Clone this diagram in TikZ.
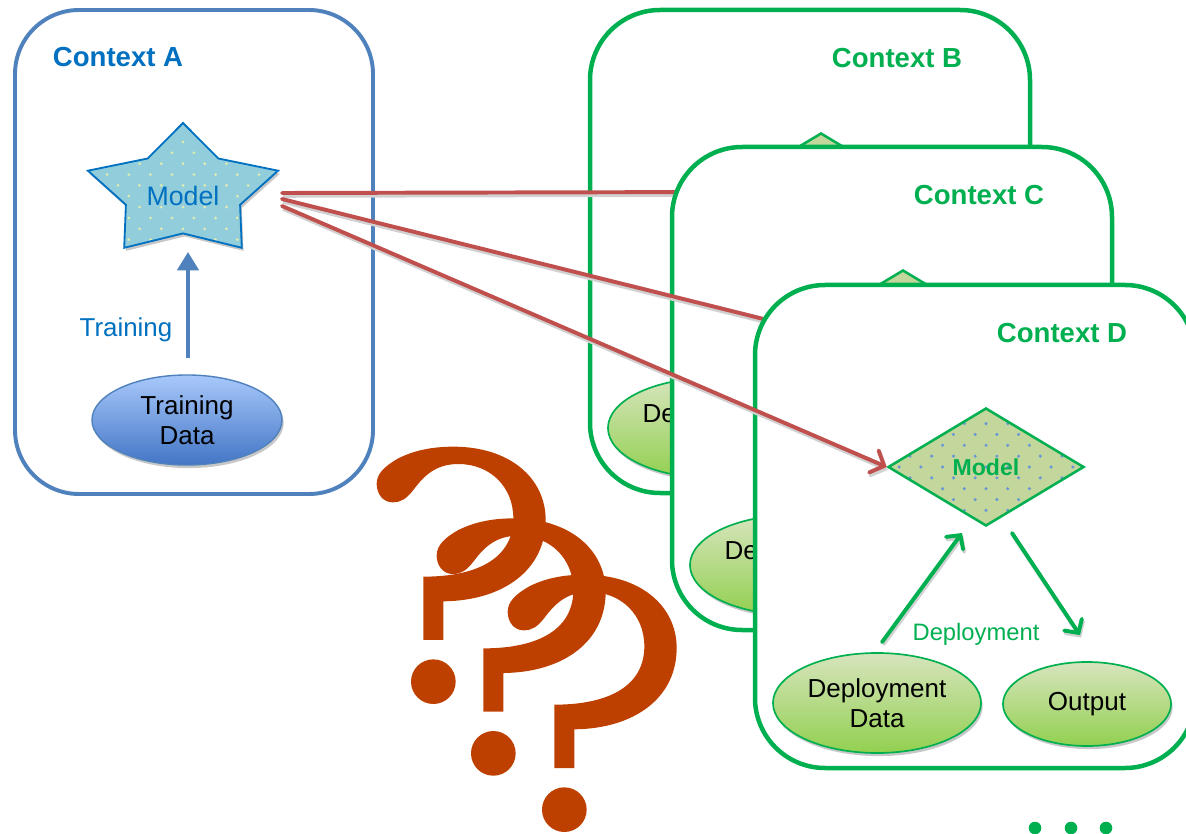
\documentclass[tikz,border=0pt]{standalone}
\usepackage{fontspec}
\setmainfont{Liberation Sans}
\usetikzlibrary{arrows.meta,shapes.geometric,shadows}

\definecolor{ablue}{RGB}{79,129,189}
\definecolor{tblue}{RGB}{0,112,192}
\definecolor{starfill}{RGB}{146,205,220}
\definecolor{stardot}{RGB}{225,236,175}
\definecolor{ggreen}{RGB}{0,176,80}
\definecolor{dfill}{RGB}{195,214,155}
\definecolor{ddot}{RGB}{105,150,215}
\definecolor{gtop}{RGB}{215,228,189}
\definecolor{gbot}{RGB}{146,208,80}
\definecolor{btop}{RGB}{168,200,250}
\definecolor{bbot}{RGB}{66,118,198}
\definecolor{rline}{RGB}{192,80,77}
\definecolor{qcol}{RGB}{190,64,0}

\tikzset{
  x=0.025cm, y=-0.025cm,
  dotgrid/.style 2 args={path picture={
    \foreach \i in {-7,...,7}\foreach \j in {-4,...,4}{
      \fill[#1] ([shift={(\i*21.7,\j*21.7)}]path picture bounding box.center) circle[radius=#2];
      \fill[#1] ([shift={(\i*21.7+10.85,\j*21.7+10.85)}]path picture bounding box.center) circle[radius=#2];}}},
  softshadow/.style={drop shadow={shadow xshift=1.2pt, shadow yshift=-2.2pt, fill=black, opacity=0.22}},
  ctxA/.style={draw=ablue, line width=2.8pt, rounded corners=1.6cm, fill=white},
  ctxbox/.style={draw=ggreen, line width=3.2pt, rounded corners=1.75cm, fill=white},
  atitle/.style={font=\fontsize{19.6}{23}\selectfont\bfseries, text=tblue},
  ctitle/.style={font=\fontsize{19.6}{23}\selectfont\bfseries, text=ggreen},
  starshape/.style={draw=tblue, line width=1.3pt, fill=starfill, softshadow, dotgrid={stardot}{1.5}},
  starlabel/.style={font=\fontsize{19}{23}\selectfont, text=tblue, inner sep=0pt},
  tdata/.style={ellipse, draw=ablue, line width=1pt, top color=btop, bottom color=bbot,
    minimum width=4.75cm, minimum height=2.25cm, inner sep=0pt, align=center,
    font=\fontsize{18.5}{21}\selectfont, softshadow},
  gdata/.style={ellipse, draw=ggreen, line width=1.2pt, top color=gtop, bottom color=gbot,
    inner sep=0pt, align=center, font=\fontsize{18.5}{21}\selectfont, softshadow},
  dmodel/.style={diamond, aspect=1.66, minimum width=4.9cm, minimum height=2.95cm, inner sep=0pt,
    draw=ggreen, line width=1.8pt, fill=dfill, dotgrid={ddot}{1.7},
    font=\fontsize{16.4}{20}\selectfont\bfseries, text=ggreen},
  tarrow/.style={draw=ablue, line width=2.8pt, -{Triangle[length=13pt,width=15pt]}},
  garrow/.style={draw=ggreen, line width=2.8pt, line cap=round,
    -{Straight Barb[length=7pt,width=15pt,line cap=round]},
    preaction={draw=black!18, line width=2.8pt, transform canvas={shift={(0.8pt,-1.8pt)}}}},
  rarrow/.style={draw=rline, line width=2.8pt, line cap=round,
    -{Straight Barb[length=8pt,width=17pt,line cap=round]},
    preaction={draw=black!18, line width=2.8pt, transform canvas={shift={(0.8pt,-2pt)}}}},
  tlabel/.style={font=\fontsize{18.4}{22}\selectfont, text=tblue},
  dlabel/.style={font=\fontsize{16.9}{20}\selectfont, text=ggreen},
  qmark/.style={fill=qcol, draw=none},
}

% one deployment context panel; #1 name prefix, #2 letter, (#3,#4) its top-left corner
\newcommand\ctxpanel[4]{%
  \begin{scope}[shift={(#3,#4)}]
    \draw[ctxbox] (0,0) rectangle (440,483);
    \node[ctitle] at (307,48) {Context #2};
    \node[dmodel] (#1-model) at (231,182) {Model};
    \node[gdata, minimum width=5.2cm, minimum height=2.5cm] (#1-data) at (122,418) {Deployment\\Data};
    \node[gdata, minimum width=4.2cm, minimum height=2.1cm] (#1-out) at (332,419) {Output};
    \draw[garrow] ([shift={(5,-10)}]#1-data.north) -- ([shift={(-24,66)}]#1-model.center);
    \draw[garrow] ([shift={(26,66)}]#1-model.center) -- ([shift={(-7,-26)}]#1-out.north);
    \node[dlabel] at (221,349) {Deployment};
  \end{scope}}

% question mark outline, drawn in a 3x finer grid
\newcommand\qglyph{%
  (160,600) -- (160,410)
  .. controls (330,410) and (430,350) .. (430,235)
  .. controls (430,140) and (360,72) .. (265,72)
  .. controls (195,72) and (160,110) .. (130,150)
  .. controls (110,175) and (95,187) .. (68,187)
  .. controls (38,187) and (20,160) .. (20,132)
  .. controls (20,100) and (45,78) .. (85,55)
  .. controls (135,30) and (190,20) .. (250,20)
  .. controls (420,20) and (527,115) .. (527,240)
  .. controls (527,390) and (400,482) .. (220,484)
  -- (220,600) -- cycle
  (190,725) circle[radius=67]}

\begin{document}
\begin{tikzpicture}
\useasboundingbox (0,0) rectangle (1186,834);
\clip (0,0) rectangle (1186,834);

% training context
\draw[ctxA] (15,10) rectangle (373,494);
\node[atitle] at (118,57) {Context A};
\draw[starshape] (183,123) -- (218.3,158.5) -- (278.1,170.7) -- (240.1,204.8) -- (241.8,247.8)
  -- (183,233.4) -- (124.2,247.8) -- (125.9,204.8) -- (87.9,170.7) -- (147.7,158.5) -- cycle;
\node[starlabel] (star) at (183,196) {Model};
\node[tdata] (train) at (187,420) {Training\\Data};
\draw[tarrow] ([shift={(1,-16)}]train.north) -- ([shift={(5,56)}]star.center);
\node[tlabel] at (126,330) {Training};

\coordinate (s1) at ([shift={(99,-3)}]star.center);
\coordinate (s2) at ([shift={(99,3)}]star.center);
\coordinate (s3) at ([shift={(99,10)}]star.center);

% question marks
\begin{scope}[shift={(370,440)}, scale=1/3]
  \fill[qmark] \qglyph;
\end{scope}
\begin{scope}[shift={(430,511.7)}, scale=1/3]
  \fill[qmark] \qglyph;
\end{scope}
\begin{scope}[shift={(501,568)}, scale=1/3]
  \fill[qmark] \qglyph;
\end{scope}

% deployment contexts, stacked
\ctxpanel{B}{B}{590}{10}
\draw[rarrow] (s1) -- (B-model.west);
\ctxpanel{C}{C}{672}{147}
\draw[rarrow] (s2) -- (C-model.west);
\ctxpanel{D}{D}{755}{285}
\draw[rarrow] (s3) -- (D-model.west);

% more contexts follow
\foreach \k/\xx in {1/1035,2/1071,3/1106}
  \fill[ggreen] (\xx,828) circle[radius=6.3] coordinate (more\k);
\end{tikzpicture}
\end{document}
